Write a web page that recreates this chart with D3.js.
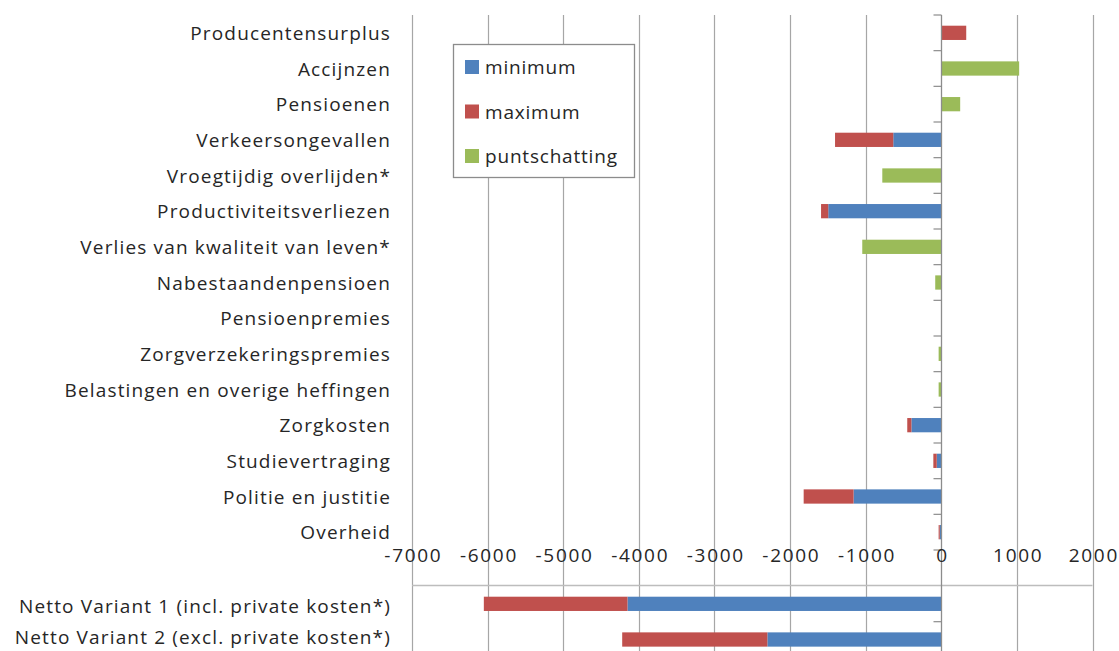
<!DOCTYPE html>
<html>
<head>
<meta charset="utf-8">
<script src="https://cdn.jsdelivr.net/npm/d3@7"></script>
<style>
  html, body { margin: 0; padding: 0; background: #fff; }
  svg { display: block; }
  text { font-family: "Open Sans", "Liberation Sans", sans-serif; fill: #262626; }
</style>
</head>
<body>
<svg id="chart" width="1119" height="651"></svg>
<script>
const categories = [
  "Producentensurplus", "Accijnzen", "Pensioenen", "Verkeersongevallen",
  "Vroegtijdig overlijden*", "Productiviteitsverliezen", "Verlies van kwaliteit van leven*",
  "Nabestaandenpensioen", "Pensioenpremies", "Zorgverzekeringspremies",
  "Belastingen en overige heffingen", "Zorgkosten", "Studievertraging",
  "Politie en justitie", "Overheid"
];
const minimum =       [0, 0, 0, -635, 0, -1495, 0, 0, 0, 0, 0, -395, -60, -1160, -20];
const maximum =       [330, 0, 0, -770, 0, -95, 0, 0, 0, 0, 0, -55, -45, -660, -15];
const puntschatting = [0, 1030, 250, 0, -780, 0, -1045, -80, 0, -35, -35, 0, 0, 0, 0];

const nettoCategories = [
  "Netto Variant 1 (incl. private kosten*)",
  "Netto Variant 2 (excl. private kosten*)"
];
const nettoMinimum = [-4150, -2300];
const nettoMaximum = [-1900, -1920];

const tickValues = [-7000, -6000, -5000, -4000, -3000, -2000, -1000, 0, 1000, 2000];
const seriesNames = ["minimum", "maximum", "puntschatting"];
const colors = { minimum: "#4f81bd", maximum: "#c0504d", puntschatting: "#9bbb59" };

const svg = d3.select("#chart");
const FS = 19;

const x = d3.scaleLinear().domain([-7000, 2000]).range([412, 1092.5]);
const yTop = d3.scaleBand().domain(categories).range([15, 550]).paddingInner(0.6).paddingOuter(0.3);
const yBot = d3.scaleBand().domain(nettoCategories).range([586, 586 + 2 * 35.67]).paddingInner(0.6).paddingOuter(0.3);
const yBotLabel = d3.scalePoint().domain(nettoCategories).range([606, 637]);
const bandTop = (550 - 15) / categories.length;

// gridlines
svg.append("g").selectAll("line").data(tickValues.filter(v => v !== 0)).join("line")
  .attr("x1", d => Math.round(x(d)) + 0.5).attr("x2", d => Math.round(x(d)) + 0.5)
  .attr("y1", 15).attr("y2", 651)
  .attr("stroke", "#a6a6a6").attr("stroke-width", 1.2);

// bottom panel top border
svg.append("line")
  .attr("x1", x(-7000)).attr("x2", x(2000)).attr("y1", 585.5).attr("y2", 585.5)
  .attr("stroke", "#bdbdbd").attr("stroke-width", 1.5);

// data tables
const topRows = categories.map((c, i) => ({ cat: c, minimum: minimum[i], maximum: maximum[i], puntschatting: puntschatting[i] }));
const botRows = nettoCategories.map((c, i) => ({ cat: c, minimum: nettoMinimum[i], maximum: nettoMaximum[i], puntschatting: 0 }));

const stack = d3.stack().keys(seriesNames).offset(d3.stackOffsetDiverging);

function drawBars(rows, yScale) {
  const layers = stack(rows);
  svg.append("g").selectAll("g").data(layers).join("g")
    .attr("fill", d => colors[d.key])
    .selectAll("rect").data(d => d).join("rect")
    .attr("x", d => x(Math.min(d[0], d[1])))
    .attr("width", d => Math.abs(x(d[1]) - x(d[0])))
    .attr("y", d => yScale(d.data.cat))
    .attr("height", yScale.bandwidth());
}
drawBars(topRows, yTop);
drawBars(botRows, yBot);

// zero axis line
const x0 = Math.round(x(0)) + 0.5;
svg.append("line").attr("x1", x0).attr("x2", x0).attr("y1", 15).attr("y2", 651)
  .attr("stroke", "#8c8c8c").attr("stroke-width", 1.3);

// category ticks at band boundaries
const topBounds = d3.range(categories.length + 1).map(i => 15 + i * bandTop);
svg.append("g").selectAll("line").data(topBounds).join("line")
  .attr("x1", x0 - 8).attr("x2", x0).attr("y1", d => d).attr("y2", d => d)
  .attr("stroke", "#8c8c8c").attr("stroke-width", 1.2);
svg.append("line").attr("x1", x0 - 8).attr("x2", x0).attr("y1", 621.7).attr("y2", 621.7)
  .attr("stroke", "#8c8c8c").attr("stroke-width", 1.2);

// category labels
svg.append("g").selectAll("text").data(categories).join("text")
  .attr("x", 391).attr("y", d => yTop(d) + yTop.bandwidth() / 2)
  .attr("text-anchor", "end").attr("dominant-baseline", "central")
  .attr("font-size", FS).attr("letter-spacing", 1.15).text(d => d);
svg.append("g").selectAll("text").data(nettoCategories).join("text")
  .attr("x", 391).attr("y", d => yBotLabel(d))
  .attr("text-anchor", "end").attr("dominant-baseline", "central")
  .attr("font-size", FS).attr("letter-spacing", 1.15).text(d => d);

// x axis labels
const xAxis = d3.axisBottom(x).tickValues(tickValues).tickSize(0).tickFormat(d => String(d));
const gx = svg.append("g").attr("transform", "translate(0,548)").call(xAxis);
gx.select(".domain").remove();
gx.selectAll("text").attr("font-size", FS).attr("font-family", "\"Open Sans\", sans-serif")
  .attr("letter-spacing", 1.7).attr("dx", 0.85)
  .attr("fill", "#262626").attr("dy", "0.35em").attr("y", 7);

// legend
const lg = svg.append("g");
lg.append("rect").attr("x", 453.5).attr("y", 44.5).attr("width", 181).attr("height", 133)
  .attr("fill", "#fff").attr("stroke", "#8c8c8c").attr("stroke-width", 1.3);
const items = lg.selectAll("g.item").data(seriesNames).join("g")
  .attr("transform", (d, i) => `translate(465, ${67 + i * 44.5})`);
items.append("rect").attr("x", 0).attr("y", -7).attr("width", 14).attr("height", 14)
  .attr("fill", d => colors[d]);
items.append("text").attr("x", 20).attr("y", 0).attr("dominant-baseline", "central")
  .attr("font-size", FS).attr("letter-spacing", 0.8).text(d => d);
</script>
</body>
</html>
